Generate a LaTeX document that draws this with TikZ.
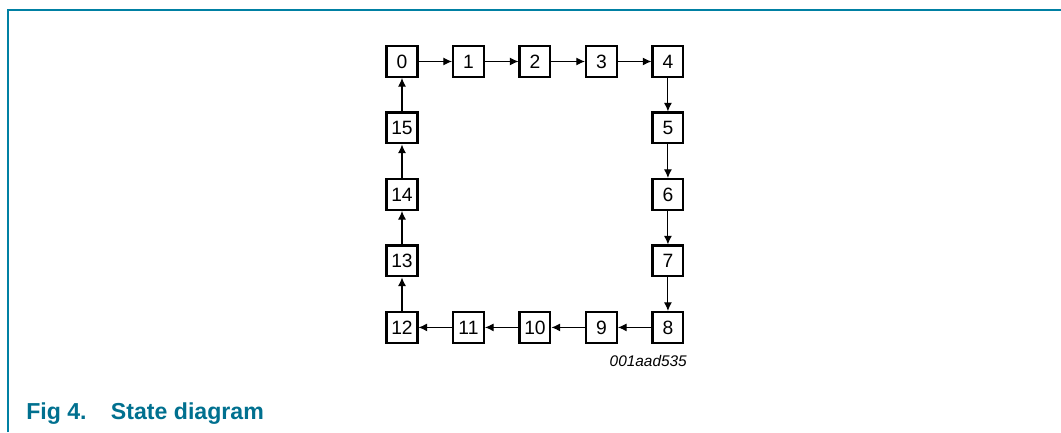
\documentclass[tikz,border=0pt]{standalone}
\usepackage{fontspec}
\setmainfont{Liberation Sans}
\usetikzlibrary{positioning,arrows.meta}

\definecolor{framecol}{RGB}{0,128,163}
\definecolor{captioncol}{RGB}{0,112,143}

\tikzset{
    state/.style={draw, line width=1.8pt, minimum size=0.81cm, inner sep=0pt,
                  font=\fontsize{14.5}{17}\selectfont},
    trans/.style={->, line width=0.8pt}
}

\begin{document}
\begin{tikzpicture}[>={Latex[length=6.5pt,width=6pt]}, node distance=1.759cm, on grid]
        % fix the page size
        \useasboundingbox (0cm,0cm) rectangle (28.072cm,11.430cm);

        % draw the frame
        \draw[framecol, line width=1pt] (0.212cm,0cm) -- (0.212cm,11.165cm) -- (28.072cm,11.165cm);

        % top row of states
        \node[state] (s0) at (10.636cm,9.803cm) {0};
        \foreach \i [evaluate=\i as \p using int(\i-1)] in {1,...,4}
                \node[state, right=of s\p] (s\i) {\i};
        % right column
        \foreach \i [evaluate=\i as \p using int(\i-1)] in {5,...,8}
                \node[state, below=of s\p] (s\i) {\i};
        % bottom row
        \foreach \i [evaluate=\i as \p using int(\i-1)] in {9,...,12}
                \node[state, left=of s\p] (s\i) {\i};
        % left column
        \foreach \i [evaluate=\i as \p using int(\i-1)] in {13,...,15}
                \node[state, above=of s\p] (s\i) {\i};

        % transitions from each state to the next one
        \foreach \i [evaluate={\i as \nxt using int(mod(\i+1,16))}] in {0,...,15}
                \draw[trans] (s\i) -- (s\nxt);

        % drawing code
        \node[anchor=north east, inner sep=0pt, font=\fontsize{11.6}{13}\selectfont\itshape]
              (code) at ([xshift=2pt,yshift=-8.5pt]s8.south east) {001aad535};

        % caption
        \node[anchor=base west, inner sep=0pt, text=captioncol,
              font=\fontsize{17.4}{20}\selectfont\bfseries]
              (caption) at (0.688cm,0.344cm) {\makebox[63.75pt][l]{Fig 4.}State diagram};
\end{tikzpicture}
\end{document}
